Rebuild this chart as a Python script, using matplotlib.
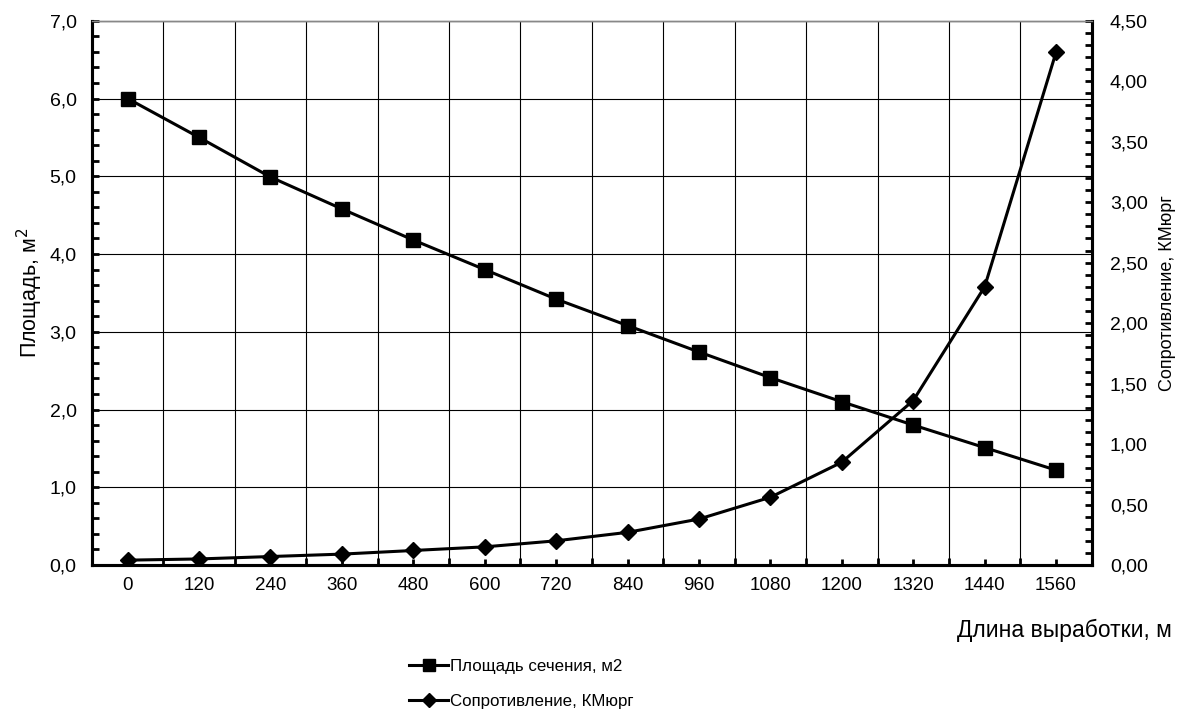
import matplotlib.pyplot as plt
from matplotlib.ticker import FixedLocator, MultipleLocator, FuncFormatter
from matplotlib.lines import Line2D

# Data
lengths = [0, 120, 240, 360, 480, 600, 720, 840, 960, 1080, 1200, 1320, 1440, 1560]
area = [6.00, 5.50, 4.99, 4.58, 4.18, 3.80, 3.42, 3.08, 2.74, 2.41, 2.10, 1.80, 1.51, 1.22]
resistance = [0.04, 0.05, 0.07, 0.09, 0.12, 0.15, 0.20, 0.27, 0.38, 0.56, 0.85, 1.36, 2.30, 4.24]

plt.rcParams['font.family'] = ['Liberation Sans', 'DejaVu Sans']

fig = plt.figure(figsize=(11.79, 7.17), dpi=100)
ax = fig.add_axes([0.078, 0.212, 0.848, 0.759])
ax2 = ax.twinx()

x = list(range(len(lengths)))

ax.plot(x, area, color='black', lw=2.2, marker='s', markersize=9.5, zorder=5)
ax2.plot(x, resistance, color='black', lw=2.2, marker='D', markersize=8, zorder=5)

ax.set_xlim(-0.5, len(lengths) - 0.5)
ax.set_ylim(0, 7)
ax2.set_ylim(0, 4.5)

# x axis: labels at category centres, grid at category boundaries
ax.xaxis.set_major_locator(FixedLocator(x))
ax.set_xticklabels([str(v) for v in lengths], fontsize=13.5)
ax.xaxis.set_minor_locator(FixedLocator([i - 0.5 for i in range(len(lengths) + 1)]))
ax.tick_params(axis='x', which='major', direction='in', length=4, width=2, pad=9)
ax.tick_params(axis='x', which='minor', direction='in', length=5, width=2)

ax.yaxis.set_major_locator(MultipleLocator(1.0))
ax.yaxis.set_minor_locator(MultipleLocator(0.2))
ax.yaxis.set_major_formatter(FuncFormatter(lambda v, p: f"{v:.1f}".replace('.', ',')))
ax.tick_params(axis='y', which='both', direction='in', length=5, width=2, labelsize=14, pad=11)

ax2.yaxis.set_major_locator(MultipleLocator(0.5))
ax2.yaxis.set_minor_locator(MultipleLocator(0.1))
ax2.yaxis.set_major_formatter(FuncFormatter(lambda v, p: f"{v:.2f}".replace('.', ',')))
ax2.tick_params(axis='y', which='both', direction='in', length=5, width=2, labelsize=14, pad=13)

ax.grid(which='major', axis='y', color='black', lw=0.8)
ax.grid(which='minor', axis='x', color='black', lw=0.8)
ax.set_axisbelow(True)

for a in (ax, ax2):
    a.spines['left'].set_linewidth(2.2)
    a.spines['right'].set_linewidth(2.2)
    a.spines['bottom'].set_linewidth(2.2)
    a.spines['top'].set_color('#888888')
    a.spines['top'].set_linewidth(1)

ax.set_ylabel('Площадь, м$^2$', fontsize=15.5, labelpad=3)
ax2.set_ylabel('Сопротивление, КМюрг', fontsize=13, labelpad=8)
fig.text(0.994, 0.121, 'Длина выработки, м', fontsize=16.5, ha='right', va='center')

handles = [
    Line2D([], [], color='black', lw=2.2, marker='s', markersize=9),
    Line2D([], [], color='black', lw=2.2, marker='D', markersize=7),
]
fig.legend(handles, ['Площадь сечения, м2', 'Сопротивление, КМюрг'],
           loc='center left', bbox_to_anchor=(0.334, 0.046), frameon=False,
           fontsize=12.2, handlelength=2.3, handletextpad=0.1, labelspacing=1.2)

fig.savefig('out.png', dpi=100)
